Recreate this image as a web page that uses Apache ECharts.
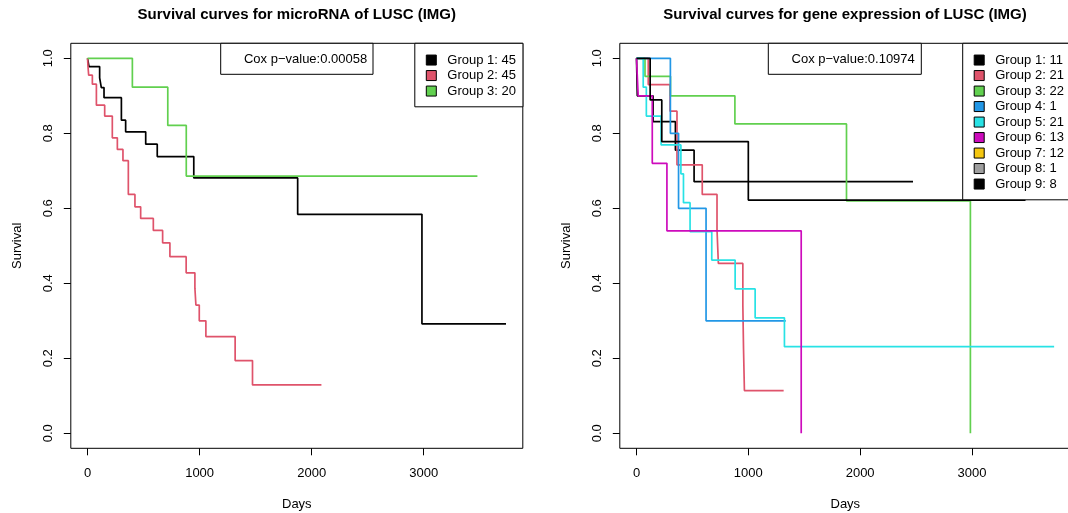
<!DOCTYPE html>
<html>
<head>
<meta charset="utf-8">
<script src="https://cdn.jsdelivr.net/npm/echarts@6/dist/echarts.min.js"></script>
<style>
  html, body { margin: 0; padding: 0; background: #fff; }
  #main { width: 1068px; height: 513px; }
</style>
</head>
<body>
<div id="main"></div>
<script>
// ---- data ----
// left panel: microRNA
const miTitle = 'Survival curves for microRNA of LUSC (IMG)';
const miCox = 'Cox p\u2212value:0.00058';
const miNames = ['Group 1: 45', 'Group 2: 45', 'Group 3: 20'];
const miG1Time = [0, 13, 108, 123, 147, 302, 340, 519, 622, 948, 1875, 2984, 3734];
const miG1Surv = [1, 0.978, 0.948, 0.922, 0.895, 0.835, 0.804, 0.771, 0.738, 0.681, 0.584, 0.292, 0.292];
const miG2Time = [0, 4, 10, 43, 79, 153, 221, 266, 316, 364, 423, 474, 587, 670, 735, 880, 958, 967, 997, 1056, 1317, 1472, 2087];
const miG2Surv = [1, 0.978, 0.955, 0.931, 0.875, 0.846, 0.788, 0.757, 0.727, 0.637, 0.604, 0.573, 0.541, 0.508, 0.471, 0.428, 0.387, 0.342, 0.300, 0.258, 0.194, 0.129, 0.129];
const miG3Time = [0, 400, 716, 881, 3479];
const miG3Surv = [1, 0.923, 0.821, 0.686, 0.686];

// right panel: gene expression
const geTitle = 'Survival curves for gene expression of LUSC (IMG)';
const geCox = 'Cox p\u2212value:0.10974';
const geNames = ['Group 1: 11', 'Group 2: 21', 'Group 3: 22', 'Group 4: 1', 'Group 5: 21',
                 'Group 6: 13', 'Group 7: 12', 'Group 8: 1', 'Group 9: 8'];
const geG1Time = [0, 7, 148, 348, 515, 2473];
const geG1Surv = [1, 0.9, 0.831, 0.755, 0.671, 0.671];
const geG2Time = [0, 105, 300, 362, 588, 720, 732, 951, 957, 965, 1316];
const geG2Surv = [1, 0.930, 0.859, 0.716, 0.637, 0.543, 0.453, 0.342, 0.227, 0.114, 0.114];
const geG3Time = [0, 76, 304, 880, 1878, 2986];
const geG3Surv = [1, 0.952, 0.900, 0.825, 0.620, 0];
const geG4Time = [0, 303, 376, 622, 1335];
const geG4Surv = [1, 0.8, 0.6, 0.3, 0.3];
const geG5Time = [0, 60, 88, 220, 397, 420, 479, 673, 882, 1061, 1323, 3735];
const geG5Surv = [1, 0.923, 0.846, 0.769, 0.692, 0.615, 0.538, 0.462, 0.385, 0.308, 0.231, 0.231];
const geG6Time = [0, 15, 141, 272, 1473];
const geG6Surv = [1, 0.9, 0.72, 0.54, 0];
const geG7Time = [];
const geG7Surv = [];
const geG8Time = [];
const geG8Surv = [];
const geG9Time = [0, 122, 226, 1000, 3479];
const geG9Surv = [1, 0.889, 0.778, 0.622, 0.622];

// axes
const dayTicks = [0, 1000, 2000, 3000];
const survTicks = [0, 0.2, 0.4, 0.6, 0.8, 1.0];

// R palette
const colors = ['#000000', '#DF536B', '#61D04F', '#2297E6', '#28E2E5', '#CD0BBC', '#F5C710', '#9E9E9E', '#000000'];

const FONT = '"Liberation Sans", Arial, Helvetica, sans-serif';

function pairs(t, s) {
    return t.map(function (v, i) { return [v, s[i]]; });
}

function kmSeries(name, t, s, color, idx) {
    return {
        name: name,
        type: 'line',
        step: 'end',
        xAxisIndex: idx,
        yAxisIndex: idx,
        showSymbol: false,
        color: color,
        lineStyle: { color: color, width: 1.7 },
        data: pairs(t, s)
    };
}

function xAx(idx) {
    return {
        type: 'value', gridIndex: idx, min: -149.4, max: 3884,
        name: 'Days', nameLocation: 'middle', nameGap: 50,
        nameTextStyle: { color: '#000', fontSize: 13, fontFamily: FONT },
        axisLine: { show: false, onZero: false },
        splitLine: { show: false },
        axisTick: { show: true, customValues: dayTicks, length: 7, lineStyle: { color: '#000' } },
        axisLabel: {
            customValues: dayTicks, color: '#000', fontSize: 13, fontFamily: FONT, margin: 19,
            formatter: function (v) { return String(v); }
        }
    };
}

function yAx(idx) {
    return {
        type: 'value', gridIndex: idx, min: -0.04, max: 1.04,
        name: 'Survival', nameLocation: 'middle', nameGap: 47,
        nameTextStyle: { color: '#000', fontSize: 13, fontFamily: FONT },
        axisLine: { show: false, onZero: false },
        splitLine: { show: false },
        axisTick: { show: true, customValues: survTicks, length: 7, lineStyle: { color: '#000' } },
        axisLabel: {
            customValues: survTicks, color: '#000', fontSize: 13, fontFamily: FONT,
            rotate: 90, margin: 16,
            formatter: function (v) { return v.toFixed(1); }
        }
    };
}

function legendBox(names, left, padBottom, padRight) {
    return {
        data: names,
        orient: 'vertical',
        left: left, top: 43.3,
        icon: 'rect',
        itemWidth: 10, itemHeight: 10, itemGap: 0,
        padding: [9, padRight, padBottom, 11],
        borderColor: '#000', borderWidth: 1,
        backgroundColor: '#fff',
        selectedMode: false,
        itemStyle: { borderColor: '#000', borderWidth: 1 },
        textStyle: { color: '#000', fontSize: 13, fontFamily: FONT, lineHeight: 15.5, padding: [0, 0, 0, 6] }
    };
}

function coxBox(text, x0, x1, textRight) {
    return [
        { type: 'rect', z: 100, shape: { x: x0, y: 43.3, width: x1 - x0, height: 31 },
          style: { fill: '#fff', stroke: '#000', lineWidth: 1 } },
        { type: 'text', z: 101, x: textRight, y: 59.5,
          style: { text: text, align: 'right', verticalAlign: 'middle', fill: '#000', fontSize: 13, fontFamily: FONT } }
    ];
}

const miData = [[miG1Time, miG1Surv], [miG2Time, miG2Surv], [miG3Time, miG3Surv]];
const geData = [[geG1Time, geG1Surv], [geG2Time, geG2Surv], [geG3Time, geG3Surv],
                [geG4Time, geG4Surv], [geG5Time, geG5Surv], [geG6Time, geG6Surv],
                [geG7Time, geG7Surv], [geG8Time, geG8Surv], [geG9Time, geG9Surv]];

const series = [];
miData.forEach(function (d, i) { series.push(kmSeries(miNames[i], d[0], d[1], colors[i], 0)); });
geData.forEach(function (d, i) { series.push(kmSeries(geNames[i], d[0], d[1], colors[i], 1)); });

const chart = echarts.init(document.getElementById('main'), null, { renderer: 'canvas' });

chart.setOption({
    animation: false,
    backgroundColor: '#fff',
    title: [
        { text: miTitle, left: 296.8, top: 7, textAlign: 'center', padding: 0,
          textStyle: { color: '#000', fontSize: 15, fontWeight: 'bold', fontFamily: FONT } },
        { text: geTitle, left: 845, top: 7, textAlign: 'center', padding: 0,
          textStyle: { color: '#000', fontSize: 15, fontWeight: 'bold', fontFamily: FONT } }
    ],
    grid: [
        { left: 70.8, top: 43.3, width: 452, height: 405, show: true, outerBoundsMode: 'none',
          borderColor: '#000', borderWidth: 1, backgroundColor: 'transparent' },
        { left: 619.8, top: 43.3, width: 451, height: 405, show: true, outerBoundsMode: 'none',
          borderColor: '#000', borderWidth: 1, backgroundColor: 'transparent' }
    ],
    xAxis: [xAx(0), xAx(1)],
    yAxis: [yAx(0), yAx(1)],
    legend: [
        legendBox(miNames, 414.8, 8, 7),
        legendBox(geNames, 962.7, 8, 30)
    ],
    graphic: coxBox(miCox, 220.7, 373, 367.2).concat(coxBox(geCox, 768.3, 921.3, 914.8)),
    series: series
});
</script>
</body>
</html>
